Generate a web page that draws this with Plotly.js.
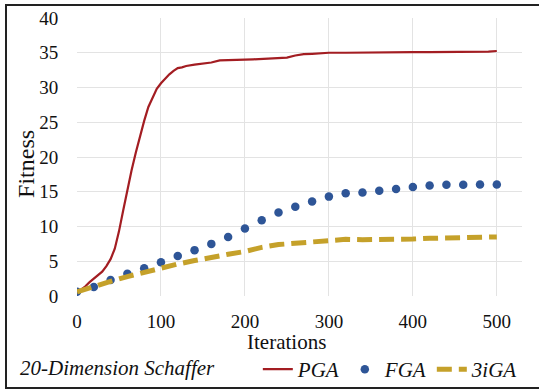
<!DOCTYPE html>
<html>
<head>
<meta charset="utf-8">
<script src="https://cdn.plot.ly/plotly-3.0.1.min.js"></script>
<style>
html,body{margin:0;padding:0;background:#fff;}
#chart{width:539px;height:389px;position:absolute;left:0;top:0;}
#frame{position:absolute;left:5px;top:4px;width:534px;height:381px;border-left:2px solid #222;border-top:2px solid #222;border-bottom:2px solid #222;pointer-events:none;}
</style>
</head>
<body>
<div id="chart"></div>
<div id="frame"></div>
<script>
const pgaX = [0,5,10,15,20,25,30,35,40,45,50,55,60,65,70,75,80,85,90,95,100,105,110,115,120,125,130,140,150,160,170,180,190,200,210,220,230,240,250,260,270,280,290,300,320,340,360,380,400,420,440,460,480,490,500];
const pgaY = [0.5,0.9,1.4,2.0,2.5,3.0,3.5,4.3,5.3,6.8,9.3,12.3,15.4,18.1,20.6,23.0,25.2,27.2,28.6,29.8,30.6,31.3,31.9,32.4,32.8,32.9,33.1,33.3,33.4,33.6,33.9,33.9,34.0,34.0,34.05,34.1,34.15,34.3,34.3,34.6,34.8,34.85,34.95,35.0,35.0,35.05,35.05,35.1,35.1,35.1,35.1,35.1,35.15,35.15,35.25];
const fgaX = [0,20,40,60,80,100,120,140,160,180,200,220,240,260,280,300,320,340,360,380,400,420,440,460,480,500];
const fgaY = [0.6,1.3,2.3,3.2,4.0,4.85,5.75,6.6,7.5,8.5,9.7,10.9,12.0,12.85,13.6,14.3,14.8,14.9,15.15,15.4,15.7,15.9,16.0,16.0,16.05,16.05];
const igaX = [0,20,40,60,80,100,120,140,160,180,200,220,240,260,280,300,320,340,360,380,400,420,440,460,480,500];
const igaY = [0.6,1.4,2.1,2.8,3.4,4.1,4.6,5.1,5.6,6.0,6.4,7.0,7.4,7.6,7.9,8.1,8.15,8.1,8.1,8.15,8.2,8.3,8.35,8.45,8.45,8.5];
const names = ['PGA','FGA','3iGA'];
const xTicks = [0,100,200,300,400,500];
const yTicks = [0,5,10,15,20,25,30,35,40];
const xTitle = 'Iterations';
const yTitle = 'Fitness';
const caption = '20-Dimension Schaffer';

const serif = "Liberation Serif";
const traces = [
  {x: pgaX, y: pgaY, name: names[0], mode: 'lines', line: {color: '#a31d22', width: 2.2}},
  {x: fgaX, y: fgaY, name: names[1], mode: 'markers', marker: {color: '#2e5597', size: 8.5}},
  {x: igaX, y: igaY, name: names[2], mode: 'lines', line: {color: '#c5a12a', width: 5, dash: '15px,7px'}}
];
const layout = {
  width: 539, height: 389,
  margin: {l: 77, r: 17, t: 18, b: 93},
  paper_bgcolor: '#fff', plot_bgcolor: '#fff',
  font: {family: serif, color: '#111', size: 19},
  showlegend: true,
  legend: {orientation: 'h', xref: 'container', yref: 'container', x: 0.97, xanchor: 'right', y: 0.05, yanchor: 'middle',
           font: {family: serif, size: 21, style: 'italic', color: '#111'},
           itemwidth: 30, tracegroupgap: 0, bgcolor: 'rgba(0,0,0,0)'},
  xaxis: {range: [0, 530], tickvals: xTicks, showgrid: true, gridcolor: '#e3e3e3', gridwidth: 1,
          zeroline: false, showline: false, ticks: 'outside', ticklen: 8, tickcolor: 'rgba(0,0,0,0)',
          automargin: false,
          tickfont: {family: serif, size: 19, color: '#111'}},
  yaxis: {range: [0, 40], tickvals: yTicks, showgrid: true, gridcolor: '#e3e3e3', gridwidth: 1,
          zeroline: false, showline: false, ticks: 'outside', ticklen: 14, tickcolor: 'rgba(0,0,0,0)',
          automargin: false,
          tickfont: {family: serif, size: 19, color: '#111'}},
  annotations: [
    {text: xTitle, xref: 'x', yref: 'paper', x: 250, y: -0.165, xanchor: 'center', yanchor: 'middle',
     showarrow: false, font: {family: serif, size: 21, color: '#111'}},
    {text: yTitle, xref: 'paper', yref: 'paper', x: -0.1146, y: 0.475, xanchor: 'center', yanchor: 'middle',
     textangle: -90, showarrow: false, font: {family: serif, size: 24, color: '#111'}},
    {text: caption, xref: 'paper', yref: 'paper', x: -0.133, y: -0.26, xanchor: 'left', yanchor: 'middle',
     showarrow: false, font: {family: serif, size: 21, style: 'italic', color: '#111'}}
  ]
};
Plotly.newPlot('chart', traces, layout, {staticPlot: true, displayModeBar: false});
</script>
</body>
</html>
